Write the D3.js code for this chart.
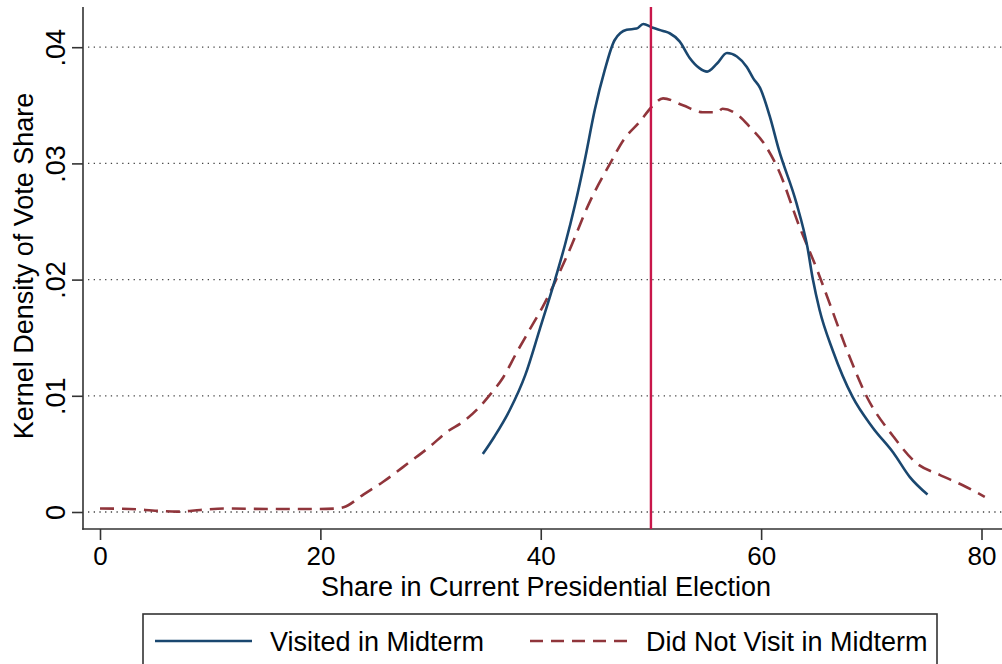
<!DOCTYPE html>
<html>
<head>
<meta charset="utf-8">
<script src="https://cdn.jsdelivr.net/npm/d3@7"></script>
<style>
  html, body { margin: 0; padding: 0; background: #fff; }
  svg { display: block; font-family: "Liberation Sans", Arial, sans-serif; }
</style>
</head>
<body>
<svg id="chart" width="1002" height="664"></svg>
<script>
// Kernel density estimates of vote share (x = share %, y = density)
const visitedX = [34.75, 35.8, 37.2, 38.6, 39.9, 41.3, 42.2, 43.1, 44.0, 44.9, 45.8, 46.7, 47.8, 48.7, 49.3, 50.1, 51.1, 51.7, 52.6, 53.5, 54.4, 55.1, 56.0, 56.9, 57.8, 58.7, 59.3, 59.9, 60.8, 61.6, 63.2, 64.2, 64.7, 65.3, 66.5, 68.3, 70.1, 72.0, 73.5, 75.1];
const visitedY = [0.0050, 0.0065, 0.0088, 0.0118, 0.0157, 0.0200, 0.0230, 0.0264, 0.0303, 0.0346, 0.0380, 0.0406, 0.0415, 0.0416, 0.0420, 0.0417, 0.0414, 0.0412, 0.0405, 0.0391, 0.0382, 0.0379, 0.0386, 0.0395, 0.0392, 0.0383, 0.0373, 0.0365, 0.0340, 0.0312, 0.0266, 0.0228, 0.0200, 0.0174, 0.0139, 0.0099, 0.0073, 0.0051, 0.0030, 0.0015];

const notVisitedX = [0, 2.7, 5.2, 7.0, 9.1, 11.5, 15.2, 19.3, 21.5, 22.1, 23.9, 25.7, 28.1, 29.9, 31.5, 33.0, 34.5, 35.4, 36.6, 37.8, 39.0, 40.2, 41.5, 42.5, 44.5, 46.3, 47.5, 49.0, 50.1, 51.1, 52.9, 54.7, 56.0, 56.5, 58.1, 59.0, 60.2, 61.5, 63.5, 65.1, 66.2, 67.8, 69.6, 72.0, 74.1, 76.2, 78.3, 80.3];
const notVisitedY = [0.0003, 0.00026, 0.0001, 0.00003, 0.00017, 0.0003, 0.00026, 0.00026, 0.0003, 0.0004, 0.0015, 0.0026, 0.0043, 0.0056, 0.0069, 0.0078, 0.0091, 0.0101, 0.0116, 0.0137, 0.0157, 0.0177, 0.0202, 0.0223, 0.0268, 0.0300, 0.0320, 0.0336, 0.0349, 0.0356, 0.0350, 0.0344, 0.0344, 0.0347, 0.0340, 0.0331, 0.0318, 0.0296, 0.0245, 0.0208, 0.0180, 0.0139, 0.0099, 0.0065, 0.0042, 0.0032, 0.0023, 0.0013];

const xTicks = [0, 20, 40, 60, 80];
const yTicks = [0, 0.01, 0.02, 0.03, 0.04];
const yTickLabels = ["0", ".01", ".02", ".03", ".04"];
const refLine = 50;

const seriesNames = ["Visited in Midterm", "Did Not Visit in Midterm"];
const navy = "#1a476f", maroon = "#90353b", cranberry = "#c8174a";
const fontSize = 27, tickFontSize = 26;

const svg = d3.select("#chart");
const x = d3.scaleLinear().domain([0, 80]).range([100, 981.5]);
const y = d3.scaleLinear().domain([0, 0.04]).range([512, 47.2]);

const plotLeft = 83, plotTop = 7, plotBottom = 529, plotRight = 1002;

// dotted horizontal grid
svg.append("g").selectAll("line").data(yTicks).join("line")
  .attr("x1", plotLeft + 5).attr("x2", plotRight)
  .attr("y1", d => y(d)).attr("y2", d => y(d))
  .attr("stroke", "#444").attr("stroke-width", 1.3)
  .attr("stroke-dasharray", "1.3 4.4");

// y axis with vertical tick labels
const yAxis = d3.axisLeft(y).tickValues(yTicks)
  .tickFormat((d, i) => yTickLabels[i]).tickSize(11);
const gy = svg.append("g").attr("transform", `translate(${plotLeft},0)`).call(yAxis);
gy.select(".domain").remove();
gy.append("line").attr("x1", 0).attr("x2", 0).attr("y1", plotTop).attr("y2", plotBottom + 0.8);
gy.selectAll("line").attr("stroke", "#333").attr("stroke-width", 1.6);
gy.selectAll(".tick text")
  .attr("font-size", fontSize).attr("fill", "#000")
  .attr("text-anchor", "middle")
  .attr("x", 0).attr("y", 0).attr("dy", 0)
  .attr("transform", "translate(-18,0) rotate(-90)");

// x axis
const xAxis = d3.axisBottom(x).tickValues(xTicks).tickSize(11);
const gx = svg.append("g").attr("transform", `translate(0,${plotBottom})`).call(xAxis);
gx.select(".domain").remove();
gx.append("line").attr("x1", plotLeft - 0.8).attr("x2", plotRight).attr("y1", 0).attr("y2", 0);
gx.selectAll("line").attr("stroke", "#333").attr("stroke-width", 1.6);
gx.selectAll(".tick text").attr("font-size", tickFontSize).attr("fill", "#000")
  .attr("dy", 0).attr("y", 36);

// axis titles
svg.append("text").attr("x", 546).attr("y", 596)
  .attr("text-anchor", "middle").attr("font-size", fontSize).attr("fill", "#000")
  .text("Share in Current Presidential Election");
svg.append("text").attr("transform", "translate(33,266) rotate(-90)")
  .attr("text-anchor", "middle").attr("font-size", fontSize).attr("fill", "#000")
  .text("Kernel Density of Vote Share");

// density curves
const line = d3.line().x(d => x(d[0])).y(d => y(d[1])).curve(d3.curveMonotoneX);
const visited = visitedX.map((v, i) => [v, visitedY[i]]);
const notVisited = notVisitedX.map((v, i) => [v, notVisitedY[i]]);

svg.append("path").datum(notVisited).attr("d", line)
  .attr("fill", "none").attr("stroke", maroon).attr("stroke-width", 2.6)
  .attr("stroke-dasharray", "14 8");
svg.append("path").datum(visited).attr("d", line)
  .attr("fill", "none").attr("stroke", navy).attr("stroke-width", 2.6)
  .attr("stroke-linejoin", "round");

// reference line at 50%
svg.append("line").attr("x1", x(refLine)).attr("x2", x(refLine))
  .attr("y1", plotTop).attr("y2", plotBottom)
  .attr("stroke", cranberry).attr("stroke-width", 2.4);

// legend
const lg = svg.append("g");
lg.append("rect").attr("x", 143).attr("y", 614).attr("width", 794).attr("height", 70)
  .attr("fill", "#fff").attr("stroke", "#333").attr("stroke-width", 1.6);
const items = [
  { name: seriesNames[0], color: navy, dash: null, x0: 155, x1: 252, tx: 270 },
  { name: seriesNames[1], color: maroon, dash: "13 8", x0: 530, x1: 630, tx: 646 }
];
items.forEach(it => {
  lg.append("line").attr("x1", it.x0).attr("x2", it.x1).attr("y1", 641).attr("y2", 641)
    .attr("stroke", it.color).attr("stroke-width", 2.6)
    .attr("stroke-dasharray", it.dash);
  lg.append("text").attr("x", it.tx).attr("y", 651).attr("font-size", fontSize).attr("fill", "#000")
    .text(it.name);
});
</script>
</body>
</html>
